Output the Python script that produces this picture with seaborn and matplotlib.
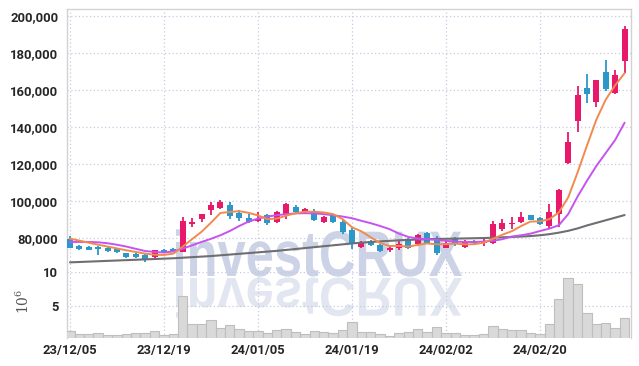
import numpy as np
import pandas as pd
import matplotlib
matplotlib.use("Agg")
import matplotlib.pyplot as plt
import seaborn as sns
from matplotlib.textpath import TextPath
from matplotlib.patches import PathPatch
from matplotlib.font_manager import FontProperties
from matplotlib.transforms import Affine2D, IdentityTransform

# ---------------- data ----------------
date_labels = ["23/12/05", "23/12/19", "24/01/05", "24/01/19", "24/02/02", "24/02/20"]
label_index = [0, 10, 20, 30, 40, 50]

opens = [79500, 75800, 75300, 75300, 74600, 74000, 71900, 71300, 70800, 69900,
         73500, 74000, 72800, 87800, 90300, 95300, 96200, 98100, 93500, 90800,
         89400, 92400, 88800, 92600, 97100, 93900, 94300, 88800, 92400, 89000,
         84500, 75300, 78600, 76200, 73500, 74600, 79500, 76800, 83000, 80300,
         75000, 79800, 75300, 78300, 77200, 77600, 84900, 87600, 88800, 92400,
         91000, 86800, 93000, 120400, 143400, 161100, 153700, 169900, 158400, 175300]
highs = [81000, 76500, 76000, 76000, 75800, 75000, 72300, 72000, 71500, 73800,
         74000, 74500, 91700, 90800, 93300, 99300, 100700, 99800, 95300, 93000,
         94300, 93000, 94500, 99000, 98000, 96300, 95700, 92000, 93200, 89800,
         85500, 78500, 79300, 77000, 76500, 79000, 80200, 82500, 83300, 81000,
         78500, 80500, 79000, 79000, 79500, 89400, 90600, 91500, 94300, 92400,
         91500, 98400, 106500, 137200, 162000, 168600, 165500, 176200, 170500, 194400]
lows = [74500, 73600, 73500, 71000, 72700, 72000, 69500, 69300, 67000, 69600,
        72300, 72800, 72500, 86000, 88500, 92500, 95800, 90300, 89400, 88300,
        88700, 87300, 88200, 90300, 93300, 93300, 89200, 88000, 88000, 82500,
        74000, 74800, 75800, 72500, 72700, 73700, 74000, 76000, 77000, 71000,
        74500, 75800, 74700, 76700, 76000, 76800, 84000, 84900, 88000, 89900,
        87300, 85500, 85800, 120000, 137200, 152800, 150700, 159500, 158000, 169200]
closes = [74800, 74000, 73700, 74000, 73200, 72600, 69800, 69700, 68300, 73500,
          72800, 73200, 89400, 88800, 93000, 97800, 99300, 92100, 91000, 88800,
          90600, 88000, 93900, 98500, 93900, 95700, 90000, 91500, 88500, 83100,
          76800, 78000, 76200, 73200, 75000, 77100, 75000, 81600, 77600, 72300,
          77600, 76800, 78600, 77200, 78000, 87600, 88100, 88100, 91400, 89900,
          87800, 94400, 105900, 131700, 157300, 158000, 165400, 160500, 168100, 193000]

ma_orange = [79800, 78700, 77600, 76500, 75500, 74500, 73500, 72600, 71700, 71100,
             71000, 71700, 75500, 79600, 83500, 88400, 93600, 94200, 94600, 93700,
             92300, 90300, 90600, 92200, 93500, 94300, 94300, 93900, 93000, 90300,
             85900, 83700, 80500, 77400, 75800, 75900, 75500, 76400, 77200, 76700,
             76800, 77100, 76700, 76800, 77600, 79700, 81900, 83800, 86600, 89000,
             89100, 90300, 93900, 102000, 115500, 130000, 144000, 154800, 162500, 169000]
ma_purple = [78000, 78000, 78000, 77800, 77300, 76500, 75500, 74300, 73100, 72600,
             72300, 72900, 74400, 76200, 78000, 79700, 81600, 83900, 86600, 89000,
             90600, 91700, 92400, 93000, 93400, 93500, 93400, 93000, 92400, 91700,
             90800, 89400, 88100, 86600, 84900, 82500, 80700, 79800, 79500, 79100,
             78600, 78200, 78000, 78000, 78200, 78600, 79500, 80900, 81600, 82500,
             83900, 85200, 87000, 93000, 102500, 111000, 119000, 126000, 133000, 142300]
ma_gray = [67000, 67200, 67400, 67600, 67800, 68000, 68200, 68400, 68600, 68800,
           69000, 69200, 69500, 69800, 70100, 70400, 70800, 71200, 71600, 72000,
           72400, 72800, 73200, 73700, 74200, 74700, 75200, 75700, 76200, 76700,
           77200, 77600, 78000, 78300, 78600, 78900, 79100, 79300, 79500, 79600,
           79700, 79800, 79900, 80000, 80100, 80300, 80500, 80700, 80900, 81200,
           81600, 82200, 83000, 84000, 85300, 86900, 88300, 89700, 91100, 92500]
volume_m = [1.3, 0.85, 0.85, 1.05, 0.65, 0.65, 0.85, 1.05, 1.05, 1.3,
            0.65, 0.85, 6.5, 2.4, 2.4, 3.0, 1.7, 2.2, 1.55, 1.3,
            1.3, 1.05, 1.45, 1.6, 1.2, 0.85, 1.3, 1.2, 1.05, 1.45,
            2.6, 1.2, 1.2, 0.85, 0.6, 1.0, 1.2, 1.55, 1.1, 1.85,
            1.0, 1.0, 0.65, 0.65, 0.85, 2.05, 1.55, 1.4, 1.4, 1.0,
            0.85, 2.35, 6.0, 9.1, 8.2, 4.05, 2.35, 2.45, 1.7, 3.3]

price_ticks = [80000, 100000, 120000, 140000, 160000, 180000, 200000]
volume_ticks = [5, 10]

# ---------------- style ----------------
sns.set_theme(style="white")
plt.rcParams['font.family'] = ['Roboto', 'DejaVu Sans']
plt.rcParams['mathtext.fontset'] = 'dejavuserif'

RED = "#e8196a"
BLUE = "#2c97c9"
ORANGE = "#f08a4e"
PURPLE = "#c653f0"
GRAY = "#6f6f72"
GRID = "#c6cbe0"
TICKC = "#262626"
TICKSIZE = 9.4

W, H = 639, 366
fig = plt.figure(figsize=(W / 100, H / 100), dpi=100)
fig.patch.set_facecolor("white")


def rect(l, t, r, b):
    return [l / W, 1 - b / H, (r - l) / W, (b - t) / H]


ax = fig.add_axes(rect(66.7, 9, 630.7, 272))
axv = fig.add_axes(rect(66.7, 272, 630.7, 337.5), sharex=ax)
for a in (ax, axv):
    a.set_facecolor("none")

# ---------------- watermark ----------------
fp = FontProperties(family="Liberation Sans", weight="bold")
tp = TextPath((0, 0), "investCRUX", size=100, prop=fp)
cap = TextPath((0, 0), "C", size=100, prop=fp).get_extents().y1
bb = tp.get_extents()
x0, x1 = 176, 462
sx = (x1 - x0) / (bb.x1 - bb.x0)
sy = (276 - 231) / cap
t_main = Affine2D().translate(-bb.x0, 0).scale(sx, sy).translate(x0, H - 276)
t_refl = Affine2D().translate(-bb.x0, 0).scale(sx, -sy * 0.85).translate(x0, H - 278)
fig.add_artist(PathPatch(tp, transform=t_main + IdentityTransform(),
                         facecolor="#ccd3e6", edgecolor="none", zorder=-2))
fig.add_artist(PathPatch(tp, transform=t_refl + IdentityTransform(),
                         facecolor="#e2e6f0", edgecolor="none", zorder=-2))

# ---------------- candles ----------------
idx = np.arange(len(closes))
df = pd.DataFrame({"i": idx, "open": opens, "high": highs, "low": lows, "close": closes,
                   "ma5": ma_orange, "ma10": ma_purple, "ma60": ma_gray, "vol": volume_m})
colors = [RED if c >= o else BLUE for o, c in zip(df["open"], df["close"])]
ax.vlines(df["i"], df["low"], df["high"], colors=colors, linewidth=1.3, zorder=3)
body_bottom = np.minimum(df["open"], df["close"])
body_h = np.maximum(np.abs(df["close"] - df["open"]), 400)
ax.bar(df["i"], body_h, bottom=body_bottom, width=0.64, color=colors, linewidth=0, zorder=3)

sns.lineplot(data=df, x="i", y="ma60", ax=ax, color=GRAY, linewidth=1.5, zorder=4)
sns.lineplot(data=df, x="i", y="ma10", ax=ax, color=PURPLE, linewidth=1.4, zorder=4)
sns.lineplot(data=df, x="i", y="ma5", ax=ax, color=ORANGE, linewidth=1.4, zorder=4)

# ---------------- volume ----------------
sns.barplot(data=df, x="i", y="vol", ax=axv, native_scale=True, color="#d9d9d9",
            saturation=1, width=1.0, edgecolor="#bebebe", linewidth=0.8, zorder=3)

# ---------------- axes formatting ----------------
ax.set_xlim(-0.35, 59.65)
ax.set_ylim(61800, 203600)
axv.set_ylim(0.35, 10.05)

ax.set_yticks(price_ticks)
ax.set_yticklabels([f"{v:,}" for v in price_ticks])
axv.set_yticks(volume_ticks)
axv.set_yticklabels([str(v) for v in volume_ticks])
axv.set_xticks(label_index)
axv.set_xticklabels(date_labels)
ax.tick_params(axis="x", labelbottom=False, length=0)
for a in (ax, axv):
    a.tick_params(axis="y", length=0, pad=6, labelsize=TICKSIZE, labelcolor=TICKC)
    for lab in a.get_yticklabels():
        lab.set_fontweight("bold")
    a.grid(True, color=GRID, linestyle=(0, (1, 2)), linewidth=0.9)
    a.set_axisbelow(True)
    a.set_xlabel("")
    a.set_ylabel("")
axv.tick_params(axis="x", length=0, pad=5, labelsize=TICKSIZE, labelcolor=TICKC)
for lab in axv.get_xticklabels():
    lab.set_fontweight("bold")

for name, sp in ax.spines.items():
    sp.set_color("#d2d2d2")
    sp.set_linewidth(1.0)
ax.spines["bottom"].set_visible(False)
for name, sp in axv.spines.items():
    sp.set_color("#d2d2d2")
    sp.set_linewidth(1.0)
axv.spines["top"].set_visible(False)
axv.spines["bottom"].set_visible(False)

axv.set_ylabel(r"$10^6$", fontsize=10, color="#555555")
axv.yaxis.set_label_coords((32 - 66.7) / (630.7 - 66.7), 0.55)

fig.savefig("out.png", dpi=100)
